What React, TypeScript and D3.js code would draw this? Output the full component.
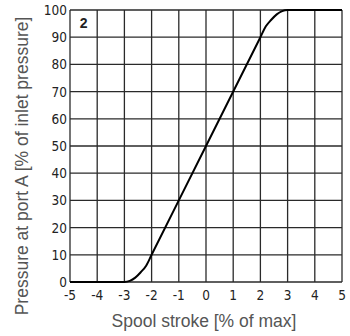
import React from 'react';
import * as d3 from 'd3';

const strokeX = [-5, -3, -2.8, -2.6, -2.4, -2.2, -2, 0, 2, 2.2, 2.4, 2.6, 2.8, 3, 5];
const pressureY = [0, 0, 0.4, 1.6, 3.6, 6, 10, 50, 90, 94, 96.4, 98.4, 99.6, 100, 100];
const xTicks = [-5, -4, -3, -2, -1, 0, 1, 2, 3, 4, 5];
const yTicks = [0, 10, 20, 30, 40, 50, 60, 70, 80, 90, 100];

const W = 350;
const H = 336;
const margin = { top: 10, right: 8, bottom: 54, left: 70 };

const tickFont = "'Liberation Sans Narrow', 'DejaVu Sans Condensed', sans-serif";
const labelFont = "'Liberation Sans', Arial, sans-serif";

const App: React.FC = () => {
  const x = d3.scaleLinear().domain([-5, 5]).range([margin.left, W - margin.right]);
  const y = d3.scaleLinear().domain([0, 100]).range([H - margin.bottom, margin.top]);

  const points = strokeX.map((sx, i) => [sx, pressureY[i]] as [number, number]);
  const line = d3.line<[number, number]>()
    .x(d => x(d[0]))
    .y(d => y(d[1]))
    .curve(d3.curveMonotoneX);

  return (
    <svg width={W} height={H} style={{ position: 'absolute', left: 0, top: 0, background: '#fff' }}>
      {xTicks.map(t => (
        <line key={'gx' + t} x1={x(t)} x2={x(t)} y1={y(0)} y2={y(100)} stroke="#2a2a2a" strokeWidth={1.3} />
      ))}
      {yTicks.map(t => (
        <line key={'gy' + t} x1={x(-5)} x2={x(5)} y1={y(t)} y2={y(t)} stroke="#2a2a2a" strokeWidth={1.3} />
      ))}
      <path d={line(points) || ''} fill="none" stroke="#000" strokeWidth={2} />

      {xTicks.map(t => (
        <text key={'tx' + t} x={x(t)} y={y(0) + 18} textAnchor="middle" fontFamily={tickFont} fontSize={13.5} fill="#222">
          {t < 0 ? '-' + Math.abs(t) : t}
        </text>
      ))}
      {yTicks.map(t => (
        <text key={'ty' + t} x={x(-5) - 3} y={y(t) + 1} textAnchor="end" dominantBaseline="middle" fontFamily={tickFont} fontSize={13.5} fill="#222">
          {t}
        </text>
      ))}

      <text x={x(-4.5)} y={y(95) + 1} textAnchor="middle" dominantBaseline="middle" fontFamily={labelFont} fontWeight="bold" fontSize={14} fill="#222">2</text>

      <text x={x(0) - 2} y={327} textAnchor="middle" fontFamily={labelFont} fontSize={17.5} fill="#555">
        Spool stroke [% of max]
      </text>
      <text
        transform="translate(28, 166) rotate(-90)"
        textAnchor="middle"
        fontFamily={labelFont}
        fontSize={17.5}
        fill="#555"
      >
        Pressure at port A [% of inlet pressure]
      </text>
    </svg>
  );
};

export default App;
